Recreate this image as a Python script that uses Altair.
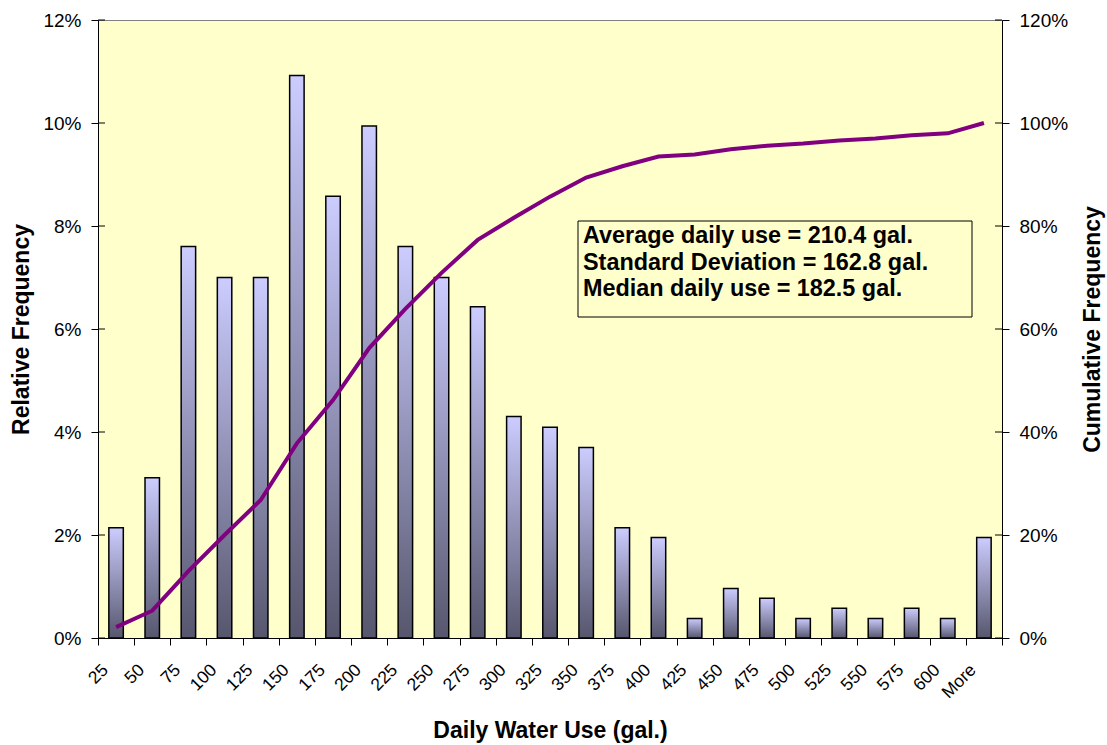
import altair as alt
import pandas as pd

# Histogram bins (upper limits, gallons/day) and the overflow bin
bins = ["25", "50", "75", "100", "125", "150", "175", "200", "225", "250",
        "275", "300", "325", "350", "375", "400", "425", "450", "475", "500",
        "525", "550", "575", "600", "More"]

# Share of households falling in each bin
relative_freq = [0.0214, 0.0311, 0.0760, 0.0700, 0.0700, 0.1092, 0.0858, 0.0994,
                 0.0760, 0.0700, 0.0643, 0.0430, 0.0409, 0.0370, 0.0214, 0.0195,
                 0.0038, 0.0096, 0.0077, 0.0038, 0.0058, 0.0038, 0.0058, 0.0038,
                 0.0195]

# Running total of the shares
cumulative_freq = [0.021, 0.053, 0.130, 0.200, 0.268, 0.378, 0.462, 0.563,
                   0.639, 0.709, 0.773, 0.816, 0.857, 0.894, 0.916, 0.935,
                   0.939, 0.949, 0.956, 0.960, 0.966, 0.970, 0.976, 0.980, 1.000]

left_ticks = [0, 0.02, 0.04, 0.06, 0.08, 0.10, 0.12]
right_ticks = [0, 0.2, 0.4, 0.6, 0.8, 1.0, 1.2]

stats_lines = ["Average daily use = 210.4 gal.",
               "Standard Deviation = 162.8 gal.",
               "Median daily use = 182.5 gal."]

df = pd.DataFrame({"bin": bins, "rel": relative_freq, "cum": cumulative_freq})
left_df = pd.DataFrame({"rel": left_ticks})
right_df = pd.DataFrame({"cum": right_ticks})
one_row = pd.DataFrame({"k": [0]})

FONT = "Liberation Sans"

x_enc = alt.X(
    "bin:N", sort=bins,
    scale=alt.Scale(paddingInner=0, paddingOuter=0),
    axis=alt.Axis(
        title="Daily Water Use (gal.)", titleFontSize=23, titleFontWeight="bold",
        titleColor="black", titleX=452, titleY=92, titleBaseline="middle",
        labelAngle=315, labelAlign="right", labelBaseline="middle",
        labelFontSize=17.5, labelColor="black", labelPadding=22, labelOffset=-11,
        tickBand="extent", tickSize=7, tickColor="black", domainColor="black",
        grid=False,
    ),
)

bar_fill = {
    "gradient": "linear", "x1": 0, "x2": 0, "y1": 0, "y2": 1,
    "stops": [{"offset": 0, "color": "#CCCCFF"},
              {"offset": 1, "color": "#56566D"}],
}

left_scale = alt.Scale(domain=[0, 0.12], nice=False)
right_scale = alt.Scale(domain=[0, 1.2], nice=False)

left_axis = alt.Axis(
    title="Relative Frequency", titleFontSize=23, titleFontWeight="bold",
    titleColor="black", titleAngle=270, titleX=-77, titleY=309,
    titleBaseline="middle", titleAlign="center",
    values=left_ticks, format=".0%", labelFontSize=19, labelColor="black",
    labelPadding=10, tickSize=7, tickColor="black", domainColor="black",
    grid=False,
)

right_axis = alt.Axis(
    orient="right",
    title="Cumulative Frequency", titleFontSize=23, titleFontWeight="bold",
    titleColor="black", titleAngle=270, titleX=90, titleY=309,
    titleBaseline="middle", titleAlign="center",
    values=right_ticks, format=".0%", labelFontSize=19, labelColor="black",
    labelPadding=10, tickSize=7, tickColor="black", domainColor="black",
    grid=False,
)

bars = alt.Chart(df).mark_bar(
    width=alt.RelativeBandSize(0.4), fill=bar_fill, stroke="black", strokeWidth=1.5
).encode(
    x=x_enc,
    y=alt.Y("rel:Q", scale=left_scale, axis=left_axis),
)

# Inner halves of the left axis tick marks
left_inner = alt.Chart(left_df).mark_rule(color="black", strokeWidth=1).encode(
    y=alt.Y("rel:Q", scale=left_scale, axis=left_axis),
    x=alt.value(0), x2=alt.value(7),
)

line = alt.Chart(df).mark_line(color="#800080", strokeWidth=4).encode(
    x=alt.X("bin:N", sort=bins),
    y=alt.Y("cum:Q", scale=right_scale, axis=right_axis),
)

# Inner halves of the right axis tick marks
right_inner = alt.Chart(right_df).mark_rule(color="black", strokeWidth=1).encode(
    y=alt.Y("cum:Q", scale=right_scale, axis=right_axis),
    x=alt.value(897), x2=alt.value(904),
)

# Summary statistics box
stats_box = alt.Chart(one_row).mark_rect(
    fill="#FFFFCC", stroke="black", strokeWidth=1
).encode(
    x=alt.value(480), x2=alt.value(874), y=alt.value(201), y2=alt.value(297)
)

stats_text = alt.Chart(one_row).mark_text(
    align="left", baseline="middle", font=FONT, fontSize=23.4, fontWeight="bold",
    color="black", lineHeight=26.5
).encode(
    x=alt.value(485), y=alt.value(216), text=alt.value(stats_lines)
)

chart = alt.layer(
    alt.layer(
        alt.layer(bars, left_inner),
        alt.layer(line, right_inner),
    ).resolve_scale(y="independent"),
    stats_box, stats_text,
).properties(
    width=904, height=618,
    autosize=alt.AutoSizeParams(type="none"),
    padding={"left": 98, "top": 20, "right": 105, "bottom": 107},
    background="white",
).configure(font=FONT).configure_view(
    fill="#FFFFCC", stroke="#808080", strokeWidth=1
)

chart.save("out.html", embed_options={"renderer": "svg", "actions": False})
